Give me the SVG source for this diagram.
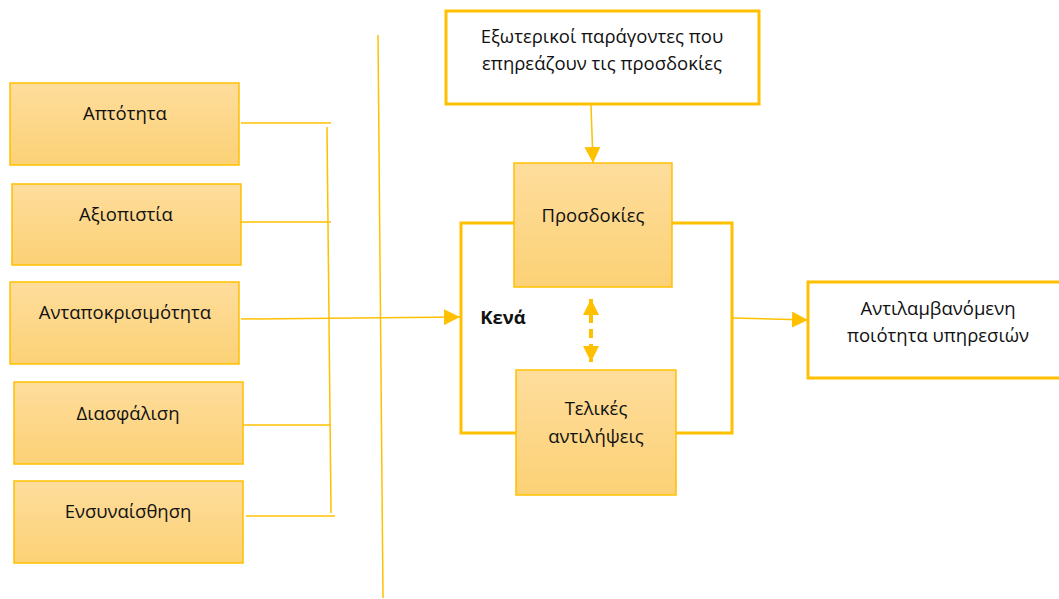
<svg xmlns="http://www.w3.org/2000/svg" width="1059" height="599" viewBox="0 0 1059 599">
  <defs>
    <linearGradient id="gold" x1="0" y1="0" x2="0" y2="1">
      <stop offset="0" stop-color="#FEDD9C"/>
      <stop offset="1" stop-color="#FCD176"/>
    </linearGradient>
    <marker id="tri" viewBox="0 0 10 10" refX="10" refY="5" markerWidth="16" markerHeight="16" markerUnits="userSpaceOnUse" orient="auto">
      <path d="M0,0 L10,5 L0,10 Z" fill="#FFC000"/>
    </marker>
    <marker id="triS" viewBox="0 0 10 10" refX="10" refY="5" markerWidth="16" markerHeight="16" markerUnits="userSpaceOnUse" orient="auto-start-reverse">
      <path d="M0,0 L10,5 L0,10 Z" fill="#FFC000"/>
    </marker>
  </defs>
  <style>
    .box { fill: url(#gold); stroke: #FFC000; stroke-width: 1.5; }
    .wbox { fill: #FFFFFF; stroke: #FFC000; stroke-width: 3; }
    .lbl { font-family: "Open Sans", "Liberation Sans", sans-serif; font-size: 18.5px; fill: #111111; text-anchor: middle; }
    .thin { stroke: #FFC000; stroke-width: 1.5; fill: none; }
    .thick { stroke: #FFC000; stroke-width: 3; fill: none; }
  </style>

  <g id="connectors">
    <!-- dimension links into the bracket -->
    <line class="thin" x1="241" y1="123" x2="331" y2="123"/>
    <line class="thin" x1="241" y1="222" x2="331" y2="222"/>
    <line class="thin" x1="243" y1="425" x2="331" y2="425"/>
    <line class="thin" x1="246" y1="516" x2="335" y2="516"/>
    <line class="thin" x1="327" y1="127" x2="331" y2="513"/>
    <!-- separator -->
    <line class="thin" x1="378" y1="35" x2="383" y2="598"/>
    <!-- responsiveness feed into the gap loop -->
    <line class="thin" x1="241" y1="319" x2="460" y2="317" marker-end="url(#tri)"/>
    <!-- external factors into expectations -->
    <line class="thin" x1="591" y1="105" x2="593" y2="163" marker-end="url(#tri)"/>
    <!-- gap loop -->
    <polyline class="thick" points="514,223 461,223 461,433 516,433"/>
    <polyline class="thick" points="672,223 732,223 732,433 676,433"/>
    <!-- loop into perceived quality -->
    <line class="thin" x1="733" y1="318" x2="808" y2="320" marker-end="url(#tri)"/>
    <!-- expectations / perceptions gap -->
    <line x1="591" y1="299" x2="591" y2="362" stroke="#FFC000" stroke-width="4" stroke-dasharray="9,6" marker-start="url(#triS)" marker-end="url(#triS)"/>
  </g>

  <g id="tangibles">
    <rect class="box" x="10" y="83" width="229" height="82"/>
    <text class="lbl" x="125" y="120">Απτότητα</text>
  </g>
  <g id="reliability">
    <rect class="box" x="12" y="184" width="229" height="81"/>
    <text class="lbl" x="126" y="221">Αξιοπιστία</text>
  </g>
  <g id="responsiveness">
    <rect class="box" x="10" y="282" width="229" height="82"/>
    <text class="lbl" x="125" y="319">Ανταποκρισιμότητα</text>
  </g>
  <g id="assurance">
    <rect class="box" x="14" y="382" width="229" height="82"/>
    <text class="lbl" x="128" y="420">Διασφάλιση</text>
  </g>
  <g id="empathy">
    <rect class="box" x="14" y="481" width="229" height="82"/>
    <text class="lbl" x="128" y="518">Ενσυναίσθηση</text>
  </g>

  <g id="external-factors">
    <rect class="wbox" x="446" y="11" width="313" height="93"/>
    <text class="lbl" x="602" y="43">Εξωτερικοί παράγοντες που</text>
    <text class="lbl" x="602" y="70">επηρεάζουν τις προσδοκίες</text>
  </g>
  <g id="expectations">
    <rect class="box" x="514" y="163" width="158" height="124"/>
    <text class="lbl" x="593" y="222">Προσδοκίες</text>
  </g>
  <g id="perceptions">
    <rect class="box" x="516" y="370" width="160" height="125"/>
    <text class="lbl" x="596" y="415">Τελικές</text>
    <text class="lbl" x="596" y="443">αντιλήψεις</text>
  </g>
  <g id="gaps">
    <text class="lbl" x="503" y="324" font-weight="bold">Κενά</text>
  </g>
  <g id="perceived-quality">
    <rect class="wbox" x="808" y="282" width="260" height="96"/>
    <text class="lbl" x="938" y="315">Αντιλαμβανόμενη</text>
    <text class="lbl" x="938" y="342">ποιότητα υπηρεσιών</text>
  </g>
</svg>
